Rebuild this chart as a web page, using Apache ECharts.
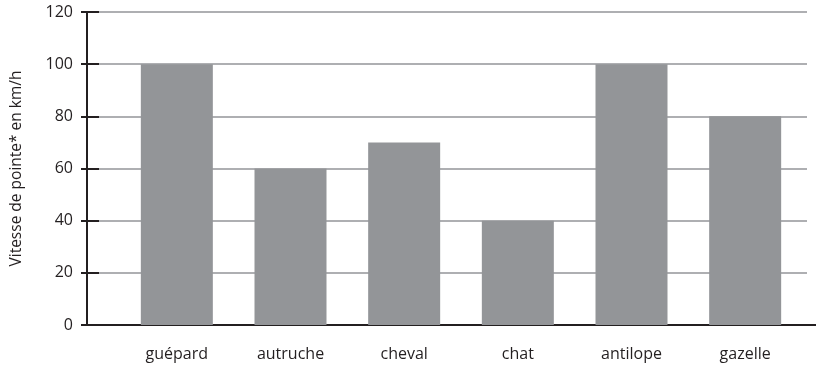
<!DOCTYPE html>
<html>
<head>
<meta charset="utf-8">
<script src="https://cdn.jsdelivr.net/npm/echarts@6/dist/echarts.min.js"></script>
<style>
  html, body { margin: 0; padding: 0; background: #fff; }
  #chart { width: 816px; height: 371px; }
</style>
</head>
<body>
<div id="chart"></div>
<script>
const categories = ["guépard", "autruche", "cheval", "chat", "antilope", "gazelle"];
const speeds = [100, 60, 70, 40, 100, 80];
const yMin = 0, yMax = 120, yStep = 20;
const yName = "Vitesse de pointe* en km/h";

const font = "Open Sans";
const ink = "#231f20";
const grey = "#939598";

let chart = echarts.init(document.getElementById("chart"));
let option = {
  animation: false,
  grid: [
    // y axis + gridlines
    { left: 87, right: 9, top: 12, bottom: 46 },
    // bottom axis line (runs to the edge)
    { left: 87, right: 0, top: 12, bottom: 46 },
    // bars
    { left: 120, right: 14, top: 12, bottom: 46 }
  ],
  xAxis: [
    { gridIndex: 0, type: "category", data: categories, show: false },
    {
      gridIndex: 1, type: "category", data: categories,
      axisLine: { show: true, lineStyle: { color: ink, width: 2 } },
      axisTick: { show: false }, axisLabel: { show: false }
    },
    {
      gridIndex: 2, type: "category", data: categories,
      axisLine: { show: false }, axisTick: { show: false },
      axisLabel: { color: ink, fontFamily: font, fontSize: 16, margin: 21 }
    }
  ],
  yAxis: [
    {
      gridIndex: 0, type: "value", min: yMin, max: yMax, interval: yStep,
      name: yName, nameLocation: "middle", nameGap: 62, nameRotate: 90,
      nameTextStyle: { color: ink, fontFamily: font, fontSize: 15.5 },
      axisLine: { show: true, lineStyle: { color: ink, width: 2 } },
      axisTick: { show: true, inside: true, length: 12, lineStyle: { color: ink, width: 2 } },
      axisLabel: { color: ink, fontFamily: font, fontSize: 16, margin: 14 },
      splitLine: { show: true, lineStyle: { color: grey, width: 1.5 } }
    },
    {
      gridIndex: 1, type: "value", min: yMin, max: yMax, interval: yStep,
      axisLine: { show: false },
      axisTick: { show: true, length: 6, lineStyle: { color: ink, width: 2 } },
      axisLabel: { show: false }, splitLine: { show: false }
    },
    { gridIndex: 2, type: "value", min: yMin, max: yMax, interval: yStep, show: false, splitLine: { show: false } }
  ],
  series: [
    {
      type: "bar", xAxisIndex: 2, yAxisIndex: 2,
      data: speeds, barWidth: 72,
      itemStyle: { color: grey }
    }
  ]
};
chart.setOption(option);
</script>
</body>
</html>
